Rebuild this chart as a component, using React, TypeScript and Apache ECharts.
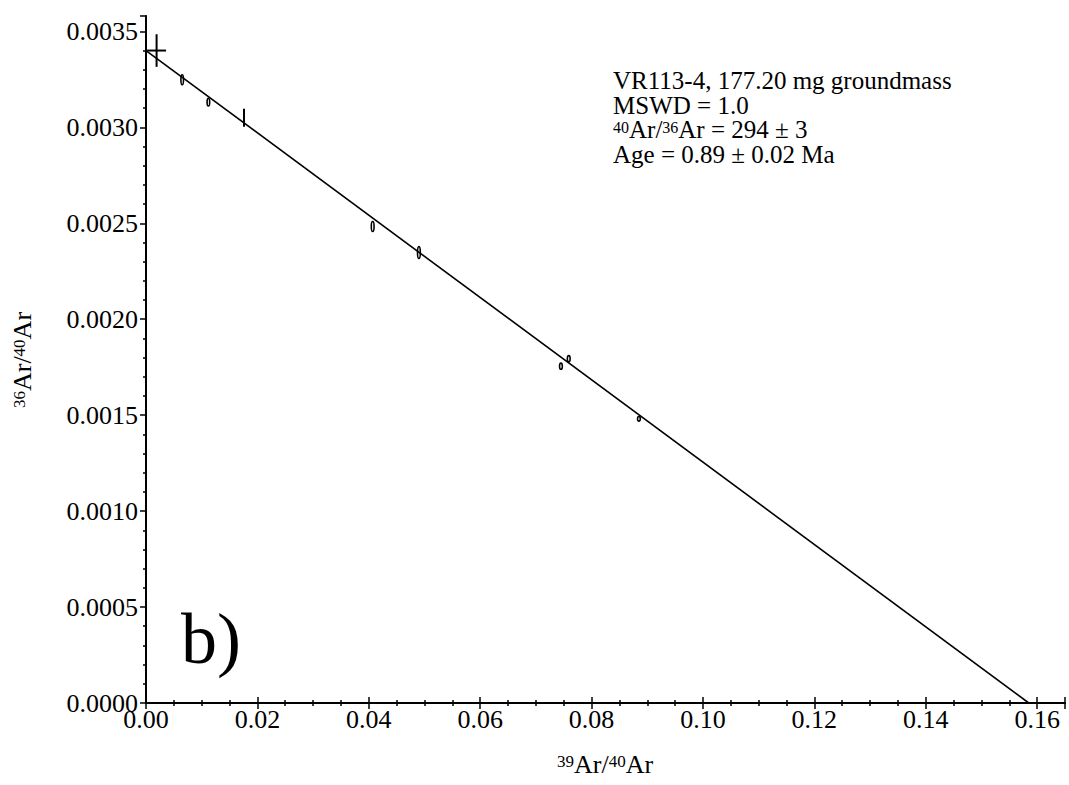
import React, { useEffect, useRef } from "react";
import * as echarts from "echarts";

// Measured data points: 39Ar/40Ar (x), 36Ar/40Ar (y), and error half-widths
const xVals = [0.0019, 0.0065, 0.0112, 0.0176, 0.0407, 0.0490, 0.0745, 0.0759, 0.0885];
const yVals = [0.00340, 0.003248, 0.003131, 0.003050, 0.002483, 0.002347, 0.001755, 0.001794, 0.001481];
const xErr = [0.0017, 0.0002, 0.0002, 0.0001, 0.00025, 0.00025, 0.00025, 0.00025, 0.00025];
const yErr = [0.000085, 0.000026, 0.000020, 0.000047, 0.000026, 0.000031, 0.000016, 0.000016, 0.000012];

// Isochron fit line endpoints
const fitX = [0, 0.1585];
const fitY = [0.0034, 0];

const xTickFmt = (v: number) => v.toFixed(2);
const yTickFmt = (v: number) => v.toFixed(4);

const annotationLines = [
  "VR113-4, 177.20 mg groundmass",
  "MSWD = 1.0",
  "{sup|40}{m|Ar/}{sup|36}{m|Ar = 294 ± 3}",
  "Age = 0.89 ± 0.02 Ma",
];

const FONT = "'Liberation Serif', 'Times New Roman', serif";

export default function App() {
  const ref = useRef<HTMLDivElement>(null);
  useEffect(() => {
    document.body.style.margin = "0";
    const chart = echarts.init(ref.current!, null, { renderer: "svg" });
    const points = xVals.map((x, i) => [x, yVals[i], xErr[i], yErr[i]]);
    const axisCommon = {
      type: "value" as const,
      splitLine: { show: false },
      axisLine: { show: true, lineStyle: { color: "#000", width: 2 } },
      axisTick: { show: true, inside: false, length: 6, lineStyle: { color: "#000", width: 1.5 } },
      minorTick: { show: true, length: 3, lineStyle: { color: "#000", width: 1.5 } },
      axisLabel: { color: "#000", fontFamily: FONT, fontSize: 26, lineHeight: 20 },
    };
    const rich = {
      m: { fontFamily: FONT, fontSize: 26, lineHeight: 23, color: "#000" },
      sup: { fontFamily: FONT, fontSize: 17, lineHeight: 15, verticalAlign: "top", color: "#000" },
    };
    const richTight = {
      m: { fontFamily: FONT, fontSize: 25, lineHeight: 20, color: "#000" },
      sup: { fontFamily: FONT, fontSize: 16, lineHeight: 12, verticalAlign: "top", color: "#000" },
    };
    chart.setOption({
      animation: false,
      backgroundColor: "#fff",
      grid: { left: 146, right: 4, top: 16, bottom: 82, containLabel: false },
      xAxis: [
        {
          ...axisCommon,
          position: "bottom",
          min: 0,
          max: 0.165,
          interval: 0.02,
          minorTick: { ...axisCommon.minorTick, splitNumber: 4 },
          axisLabel: { ...axisCommon.axisLabel, lineHeight: 16, margin: 8, formatter: xTickFmt, showMaxLabel: false },
        },
        {
          ...axisCommon,
          position: "top",
          min: 0,
          max: 0.165,
          interval: 0.02,
          minorTick: { ...axisCommon.minorTick, splitNumber: 4 },
          axisLabel: { show: false },
        },
      ],
      yAxis: [
        {
          ...axisCommon,
          position: "left",
          min: 0,
          max: 0.00358,
          interval: 0.0005,
          minorTick: { ...axisCommon.minorTick, splitNumber: 5 },
          axisLabel: { ...axisCommon.axisLabel, lineHeight: 14, margin: 8, formatter: yTickFmt, showMaxLabel: false },
        },
        {
          type: "value",
          position: "right",
          min: 0,
          max: 0.00358,
          splitLine: { show: false },
          axisLine: { show: true, lineStyle: { color: "#000", width: 1 } },
          axisTick: { show: false },
          axisLabel: { show: false },
        },
      ],
      series: [
        {
          type: "line",
          data: fitX.map((x, i) => [x, fitY[i]]),
          symbol: "none",
          lineStyle: { color: "#000", width: 1.6 },
          silent: true,
        },
        {
          type: "custom",
          data: points,
          clip: false,
          renderItem: (_params: any, api: any) => {
            const x = api.value(0);
            const y = api.value(1);
            const ex = api.value(2);
            const ey = api.value(3);
            const c = api.coord([x, y]);
            const l = api.coord([x - ex, y]);
            const r = api.coord([x + ex, y]);
            const t = api.coord([x, y + ey]);
            const b = api.coord([x, y - ey]);
            const rx = (r[0] - l[0]) / 2;
            const ry = (b[1] - t[1]) / 2;
            const style = { stroke: "#000", lineWidth: 2, fill: "none" };
            if (ry <= 7 && rx < 4) {
              return {
                type: "ellipse",
                shape: { cx: c[0], cy: c[1], rx: Math.max(rx, 1.3), ry },
                style: { stroke: "#000", lineWidth: 1.6, fill: "none" },
              };
            }
            const children: any[] = [
              { type: "line", shape: { x1: c[0], y1: t[1], x2: c[0], y2: b[1] }, style },
            ];
            if (rx >= 2) {
              children.push({ type: "line", shape: { x1: l[0], y1: c[1], x2: r[0], y2: c[1] }, style });
            }
            return { type: "group", children };
          },
        },
      ],
      graphic: [
        ...annotationLines.map((txt, i) => ({
          type: "text",
          left: 613,
          top: 68 + i * 24.5,
          style: { text: txt, rich: richTight, fontFamily: FONT, fontSize: 25, lineHeight: 20, fill: "#000" },
        })),
        {
          type: "text",
          left: 181,
          top: 603,
          style: { text: "b)", fontFamily: FONT, fontSize: 72, fill: "#000" },
        },
        {
          type: "text",
          left: 557,
          top: 751,
          style: { text: "{sup|39}{m|Ar/}{sup|40}{m|Ar}", rich, fill: "#000" },
        },
        {
          type: "text",
          x: 22,
          y: 360,
          rotation: Math.PI / 2,
          style: {
            text: "{sup|36}{m|Ar/}{sup|40}{m|Ar}",
            rich,
            align: "center",
            verticalAlign: "middle",
            fill: "#000",
          },
        },
      ],
    });
    return () => chart.dispose();
  }, []);
  return <div ref={ref} style={{ width: 1069, height: 785 }} />;
}
